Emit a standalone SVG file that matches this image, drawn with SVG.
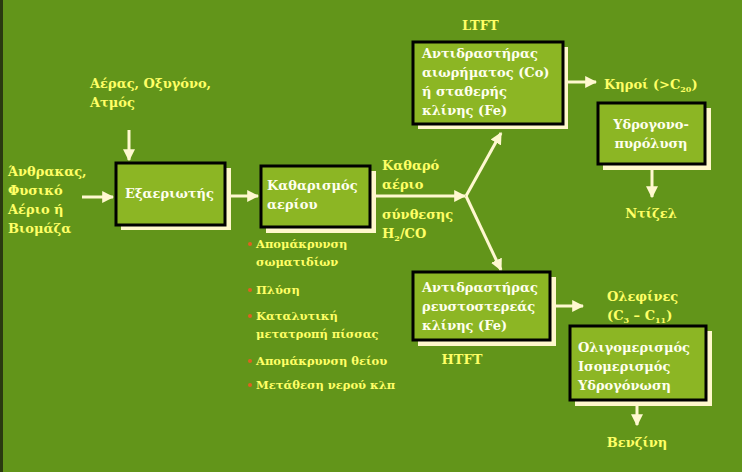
<svg xmlns="http://www.w3.org/2000/svg" width="742" height="472" viewBox="0 0 742 472">
<defs>
<style>
.y{font-family:"DejaVu Serif","Liberation Serif",serif;font-weight:bold;font-size:13px;fill:#ffff66}
.w{font-family:"DejaVu Serif","Liberation Serif",serif;font-weight:bold;font-size:13px;fill:#ffffee}
.b{font-family:"DejaVu Serif","Liberation Serif",serif;font-weight:bold;font-size:11.5px;fill:#ffff66}
.box{fill:#8cb624;stroke:#000;stroke-width:3}
.sh{fill:#fff8cc}
.c{stroke:#fff8d0;stroke-width:3;fill:none}
.dot{fill:#e06020}
</style>
<marker id="a" viewBox="0 0 10 10" refX="9" refY="5" markerWidth="4" markerHeight="4" orient="auto"><path d="M0,0L10,5L0,10z" fill="#fff8d0"/></marker>
</defs>
<rect width="742" height="472" fill="#62951a"/>
<rect width="3" height="472" fill="#2a3a10"/>
<g id="connectors">
<path class="c" d="M82,197H113" marker-end="url(#a)"/>
<path class="c" d="M129,130V160" marker-end="url(#a)"/>
<path class="c" d="M228,196H258" marker-end="url(#a)"/>
<path class="c" d="M373,196H465" marker-end="url(#a)"/>
<path class="c" d="M466,196L501,133" marker-end="url(#a)"/>
<path class="c" d="M466,196L501,270" marker-end="url(#a)"/>
<path class="c" d="M566,82H596" marker-end="url(#a)"/>
<path class="c" d="M652,168V197" marker-end="url(#a)"/>
<path class="c" d="M553,306H583" marker-end="url(#a)"/>
<path class="c" d="M637,403V425" marker-end="url(#a)"/>
</g>
<g id="gasifier"><rect class="sh" x="121" y="168" width="110" height="62"/><rect class="box" x="116" y="163" width="109" height="62"/><text class="w" x="125" y="198">Εξαεριωτής</text></g>
<g id="cleaning"><rect class="sh" x="266" y="171" width="110" height="62"/><rect class="box" x="261" y="166" width="109" height="61"/><text class="w" x="267" y="190">Καθαρισμός</text><text class="w" x="267" y="209">αερίου</text></g>
<g id="ltft"><rect class="sh" x="418" y="47" width="150" height="82"/><rect class="box" x="413" y="42" width="150" height="82"/><text class="w" x="422" y="58">Αντιδραστήρας</text><text class="w" x="422" y="77">αιωρήματος (Co)</text><text class="w" x="422" y="96">ή σταθερής</text><text class="w" x="422" y="115">κλίνης (Fe)</text></g>
<g id="hydrocracking"><rect class="sh" x="603" y="108" width="108" height="62"/><rect class="box" x="598" y="103" width="107" height="61"/><text class="w" x="651" y="129" text-anchor="middle">Υδρογονο-</text><text class="w" x="651" y="148" text-anchor="middle">πυρόλυση</text></g>
<g id="htft"><rect class="sh" x="418" y="277" width="138" height="69"/><rect class="box" x="413" y="272" width="137" height="68"/><text class="w" x="422" y="292">Αντιδραστήρας</text><text class="w" x="422" y="311">ρευστοστερεάς</text><text class="w" x="422" y="330">κλίνης (Fe)</text></g>
<g id="oligo"><rect class="sh" x="575" y="331" width="137" height="75"/><rect class="box" x="570" y="326" width="136" height="74"/><text class="w" x="578" y="352">Ολιγομερισμός</text><text class="w" x="578" y="371">Ισομερισμός</text><text class="w" x="578" y="390">Υδρογόνωση</text></g>
<g id="labels">
<text class="y" x="90" y="88">Αέρας, Οξυγόνο,</text><text class="y" x="90" y="107">Ατμός</text>
<text class="y" x="8" y="176">Άνθρακας,</text><text class="y" x="8" y="195">Φυσικό</text><text class="y" x="8" y="214">Αέριο ή</text><text class="y" x="8" y="233">Βιομάζα</text>
<text class="y" x="382" y="170">Καθαρό</text><text class="y" x="382" y="189">αέριο</text>
<text class="y" x="382" y="219">σύνθεσης</text><text class="y" x="382" y="238">H<tspan font-size="8" dy="3">2</tspan><tspan dy="-3">/CO</tspan></text>
<text class="y" x="462" y="30">LTFT</text>
<text class="y" x="604" y="89">Κηροί (&gt;C<tspan font-size="8" dy="3">20</tspan><tspan dy="-3">)</tspan></text>
<text class="y" x="651" y="218" text-anchor="middle">Ντίζελ</text>
<text class="y" x="607" y="301">Ολεφίνες</text><text class="y" x="607" y="320">(C<tspan font-size="8" dy="3">3</tspan><tspan dy="-3"> – C</tspan><tspan font-size="8" dy="3">11</tspan><tspan dy="-3">)</tspan></text>
<text class="y" x="462" y="364" text-anchor="middle">HTFT</text>
<text class="y" x="637" y="447" text-anchor="middle">Βενζίνη</text>
<circle class="dot" cx="250" cy="244" r="2"/><text class="b" x="256" y="248">Απομάκρυνση</text><text class="b" x="256" y="266">σωματιδίων</text>
<circle class="dot" cx="250" cy="290" r="2"/><text class="b" x="256" y="294">Πλύση</text>
<circle class="dot" cx="250" cy="316" r="2"/><text class="b" x="256" y="320">Καταλυτική</text><text class="b" x="256" y="338">μετατροπή πίσσας</text>
<circle class="dot" cx="250" cy="361" r="2"/><text class="b" x="256" y="365">Απομάκρυνση θείου</text>
<circle class="dot" cx="250" cy="385" r="2"/><text class="b" x="256" y="389">Μετάθεση νερού κλπ</text>
</g>
</svg>
